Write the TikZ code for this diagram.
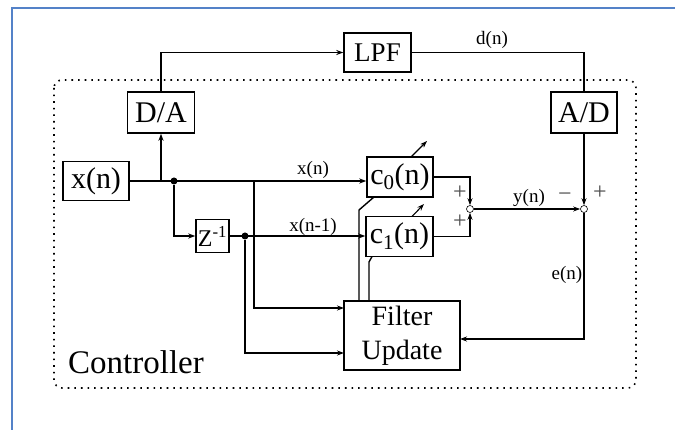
\documentclass[tikz,border=0pt]{standalone}
\usepackage{fontspec}
\setmainfont{Liberation Serif}
\usepackage{xcolor}
\usetikzlibrary{calc,arrows.meta}
\definecolor{frameblue}{RGB}{84,130,200}

\begin{document}
\begin{tikzpicture}[x=1pt, y=-1pt, line width=1.4pt,
            >={Stealth[length=7pt,width=5pt]},
            blk/.style={draw, fill=white, inner sep=0pt, font=\fontsize{30}{32}\selectfont},
            lbl/.style={inner sep=0pt, font=\fontsize{19}{21}\selectfont},
            sgn/.style={inner sep=0pt, text=black!70, font=\fontsize{24}{24}\selectfont},
            sumpt/.style={draw, circle, fill=white, minimum size=7pt, inner sep=0pt, line width=0.6pt},
            dotpt/.style={fill, circle, minimum size=7pt, inner sep=0pt}]
            \useasboundingbox (0,0) rectangle (675,430);
            \fill[white] (0,0) rectangle (675,430);
            \draw[line width=2.5pt, frameblue] (12,430) -- (12,8) -- (675,8);

            % controller frame
            \draw[line width=1.6pt, dash pattern=on 1.6pt off 5pt, rounded corners=8pt] (54,80) rectangle (636,388);
            \node[inner sep=0pt, font=\fontsize{33}{36}\selectfont] (ctrl) at (136,362) {Controller};

            \node[blk, minimum width=67pt, minimum height=39pt, font=\fontsize{27}{30}\selectfont] (lpf) at (377.5,52.5) {LPF};
            \node[blk, minimum width=67pt, minimum height=41pt] (da) at (161,112.5) {D/A};
            \node[blk, minimum width=66pt, minimum height=41pt] (ad) at (584,112.5) {A/D};
            \node[blk, minimum width=66pt, minimum height=39pt] (xn) at (96,181) {x(n)};
            \node[blk, minimum width=33pt, minimum height=33pt, font=\fontsize{24}{26}\selectfont] (zd) at (212.5,236) {Z\textsuperscript{-1}};
            \node[blk, minimum width=66pt, minimum height=40pt] (c0) at (400,177) {c\textsubscript{0}(n)};
            \node[blk, minimum width=67pt, minimum height=40pt] (c1) at (399.5,236.5) {c\textsubscript{1}(n)};
            \node[blk, minimum width=116pt, minimum height=69pt, align=center, font=\fontsize{28}{34}\selectfont] (fu) at (402,335.5) {Filter\\Update};

            \node[sumpt] (s1) at (470,209) {};
            \node[sumpt] (s2) at (584,209) {};
            \node[dotpt] (j1) at (174,181) {};
            \node[dotpt] (j2) at (245,236) {};

            \coordinate (b1) at (254,181);
            \coordinate (in1) at (344,308);
            \coordinate (in2) at (344,353);
            \coordinate (in3) at (460,339);

            \draw[->] (xn.east) -- (xn.east -| c0.west);
            \draw[->] (xn.east -| da) -- (da.south);
            \draw[->] (da.north) |- (lpf.west);
            \draw (lpf.east) -| (ad.north);
            \draw[->] (ad.south) -- (s2.north);
            \draw[->] (j1) |- (zd.west);
            \draw[->] (zd.east) -- (zd.east -| c1.west);
            \draw[->] (b1) |- (in1);
            \draw[->] (j2) |- (in2);
            \draw[->] (s2.south) |- (in3);
            \draw[->] (c0.east) -| (s1.north);
            \draw[->] (c1.east) -| (s1.south);
            \draw[->] (s1.east) -- (s2.west);

            % coefficient updates
            \coordinate (a0) at (374,197);
            \coordinate (a1) at (372,256.5);
            \draw (359,301) -- (359,210) -- (a0);
            \draw (369,301) -- (369,262) -- (a1);
            \draw[->, line width=1.1pt] (411,157) -- (427,141);
            \draw[->, line width=1.1pt] (412,216.5) -- (424,204);

            \node[lbl] (lx0) at (313,170) {x(n)};
            \node[lbl] (lx1) at (313,227) {x(n-1)};
            \node[lbl] (ly) at (529,198) {y(n)};
            \node[lbl] (ld) at (492,40) {d(n)};
            \node[lbl] (le) at (567,275) {e(n)};
            \node[sgn] (p1) at (460,193) {+};
            \node[sgn] (p2) at (460,222) {+};
            \node[sgn] (m3) at (565,197) {−};
            \node[sgn] (p4) at (600,193) {+};
        \end{tikzpicture}
\end{document}
